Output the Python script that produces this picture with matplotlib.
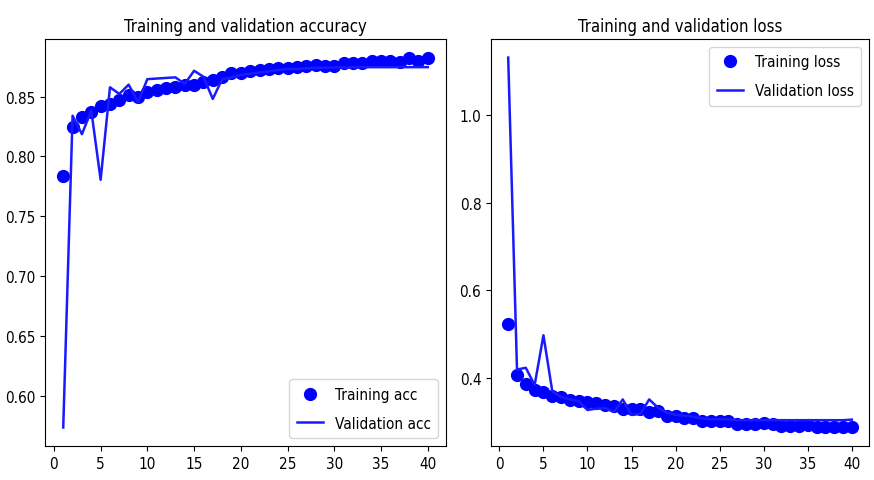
import matplotlib
matplotlib.use("Agg")
import matplotlib.pyplot as plt

plt.rcParams['font.family'] = ['DejaVu Sans']
plt.rcParams['font.stretch'] = 'condensed'
plt.rcParams['font.size'] = 11

epochs = list(range(1, 41))

acc = [0.784, 0.825, 0.833, 0.837, 0.8425, 0.844, 0.847, 0.851, 0.850, 0.8536,
       0.8555, 0.857, 0.858, 0.8595, 0.860, 0.8618, 0.8637, 0.866, 0.8693, 0.870,
       0.8715, 0.872, 0.8728, 0.8736, 0.8742, 0.8745, 0.8756, 0.8761, 0.8756, 0.8756,
       0.8778, 0.8778, 0.8778, 0.8797, 0.8797, 0.8797, 0.8790, 0.8825, 0.8797, 0.8822]
val_acc = [0.574, 0.834, 0.8186, 0.8384, 0.7806, 0.8577, 0.8522, 0.8599, 0.8453, 0.8645,
           0.8650, 0.8655, 0.866, 0.8605, 0.8715, 0.8665, 0.848, 0.8645, 0.866, 0.868,
           0.869, 0.870, 0.871, 0.872, 0.873, 0.873, 0.8735, 0.874, 0.874, 0.8742,
           0.8742, 0.8745, 0.8745, 0.8745, 0.8745, 0.8745, 0.8745, 0.8745, 0.8745, 0.8745]

loss = [0.523, 0.4075, 0.386, 0.3725, 0.3688, 0.360, 0.3575, 0.350, 0.3484, 0.3469,
        0.343, 0.3394, 0.337, 0.331, 0.3295, 0.3295, 0.3236, 0.326, 0.3146, 0.3146,
        0.3107, 0.3107, 0.3032, 0.3032, 0.3032, 0.3032, 0.2957, 0.2965, 0.2965, 0.298,
        0.297, 0.292, 0.292, 0.292, 0.293, 0.2881, 0.290, 0.289, 0.289, 0.289]
val_loss = [1.13, 0.420, 0.424, 0.3846, 0.498, 0.371, 0.3575, 0.352, 0.348, 0.328,
            0.331, 0.332, 0.3236, 0.352, 0.3168, 0.319, 0.352, 0.3333, 0.322, 0.317,
            0.315, 0.313, 0.3085, 0.307, 0.307, 0.307, 0.3047, 0.3047, 0.3047, 0.3047,
            0.3047, 0.3047, 0.3047, 0.3047, 0.3047, 0.3047, 0.3047, 0.3047, 0.3047, 0.306]

fig = plt.figure(figsize=(8.74, 4.81), dpi=100)
ax1 = fig.add_axes([0.0515, 0.0707, 0.4588, 0.846])
ax2 = fig.add_axes([0.5618, 0.0707, 0.4325, 0.846])

leg_kw = dict(labelspacing=0.9, handlelength=1.7, borderpad=0.5)

# training as dots, validation as a plain line
ax1.plot(epochs, acc, 'bo', markersize=8.5, label='Training acc')
ax1.plot(epochs, val_acc, color='#1a1aff', linewidth=1.8, label='Validation acc')
ax1.set_title('Training and validation accuracy', fontsize=12)
ax1.legend(loc='lower right', **leg_kw)

ax2.plot(epochs, loss, 'bo', markersize=8.5, label='Training loss')
ax2.plot(epochs, val_loss, color='#1a1aff', linewidth=1.8, label='Validation loss')
ax2.set_title('Training and validation loss', fontsize=12)
ax2.legend(loc='upper right', **leg_kw)

for ax in (ax1, ax2):
    ax.set_xticks(range(0, 41, 5))

fig.savefig('out.png', dpi=100)
